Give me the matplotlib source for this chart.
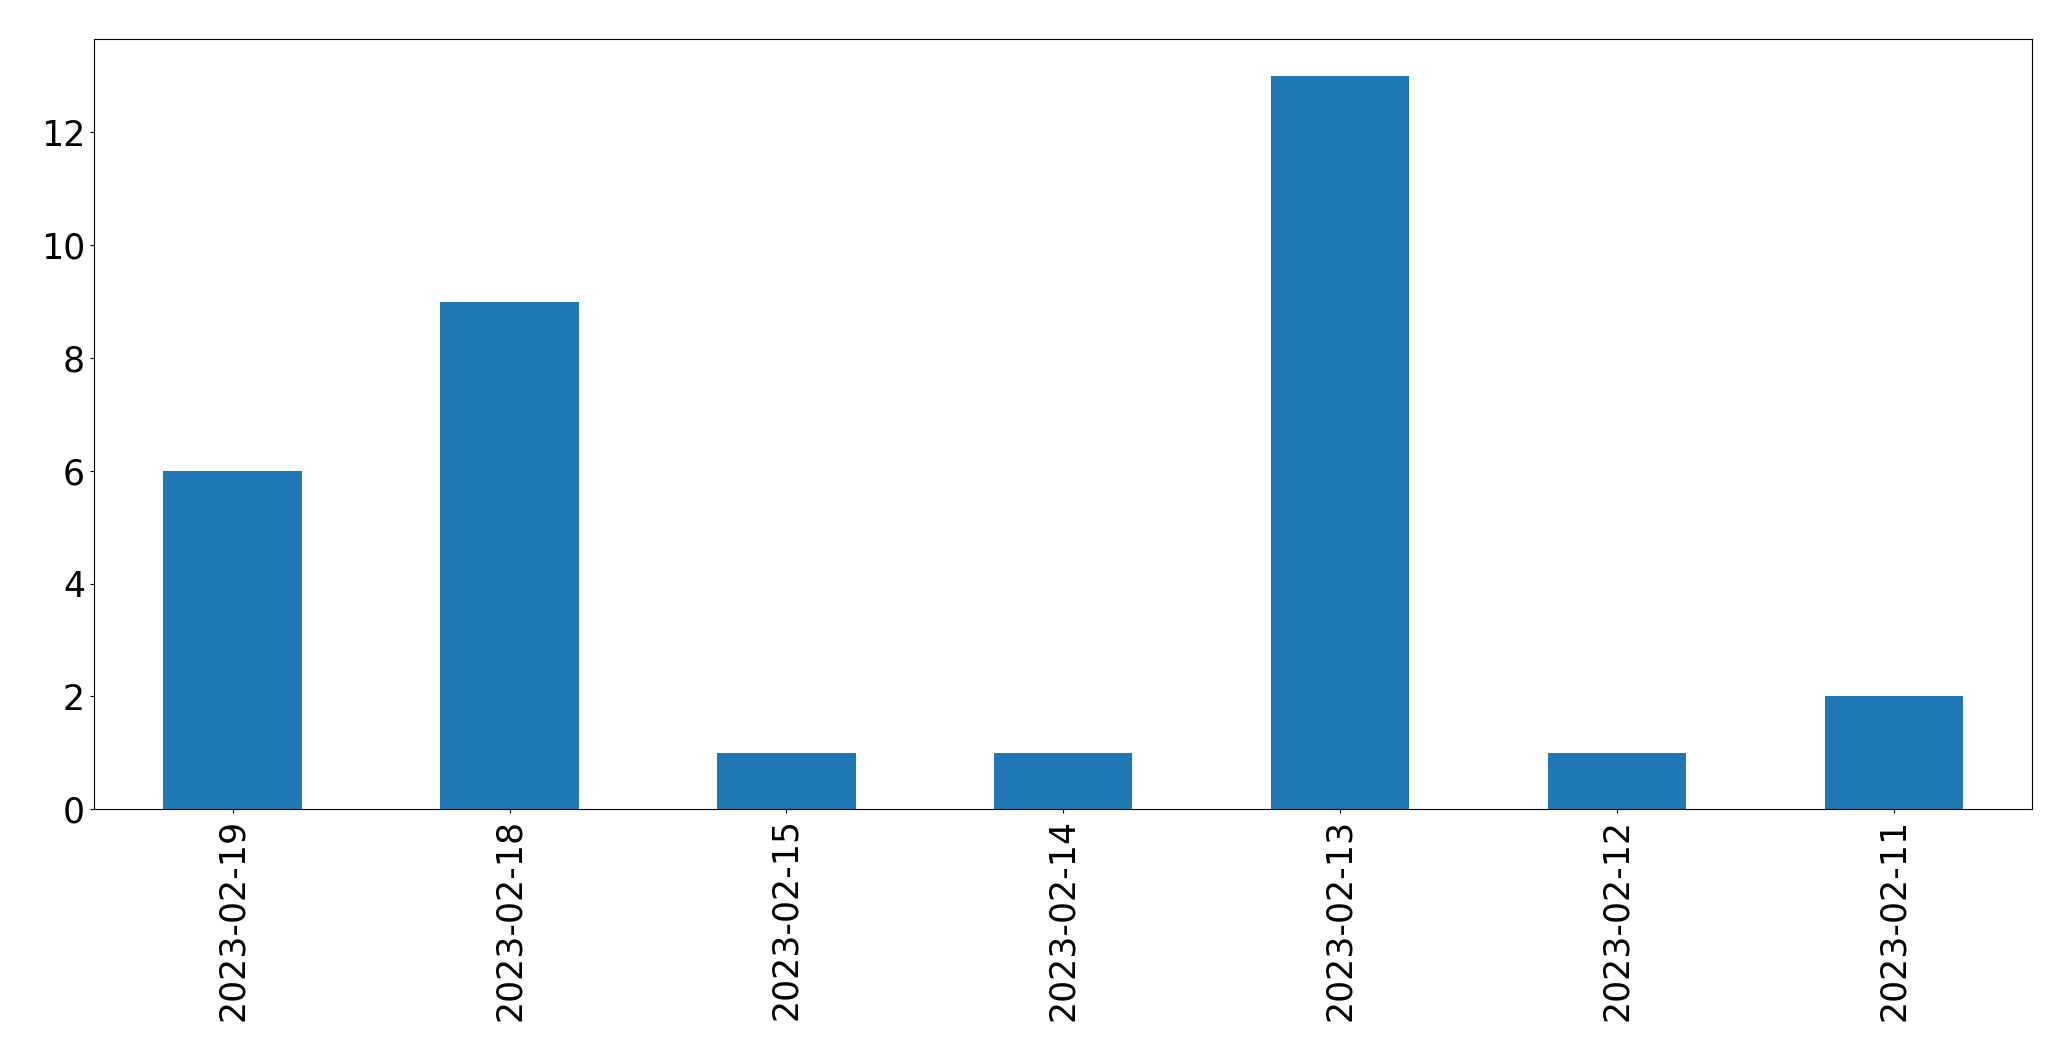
import pandas as pd
import matplotlib
matplotlib.use('Agg')
import matplotlib.pyplot as plt

# daily counts, newest first (as in the original)
dates = ['2023-02-19', '2023-02-18', '2023-02-15', '2023-02-14',
         '2023-02-13', '2023-02-12', '2023-02-11']
counts = [6, 9, 1, 1, 13, 1, 2]

s = pd.Series(counts, index=dates)

fig = plt.figure(figsize=(20.71, 10.61), dpi=100)
ax = fig.add_subplot(111)
s.plot(kind='bar', ax=ax, color='#1f77b4', linewidth=0)

ax.tick_params(axis='both', labelsize=25, length=3.1)
plt.setp(ax.get_xticklabels(), rotation=90)

fig.subplots_adjust(left=0.0455, right=0.9813, top=0.963, bottom=0.2372)
fig.savefig('out.png', dpi=100)
